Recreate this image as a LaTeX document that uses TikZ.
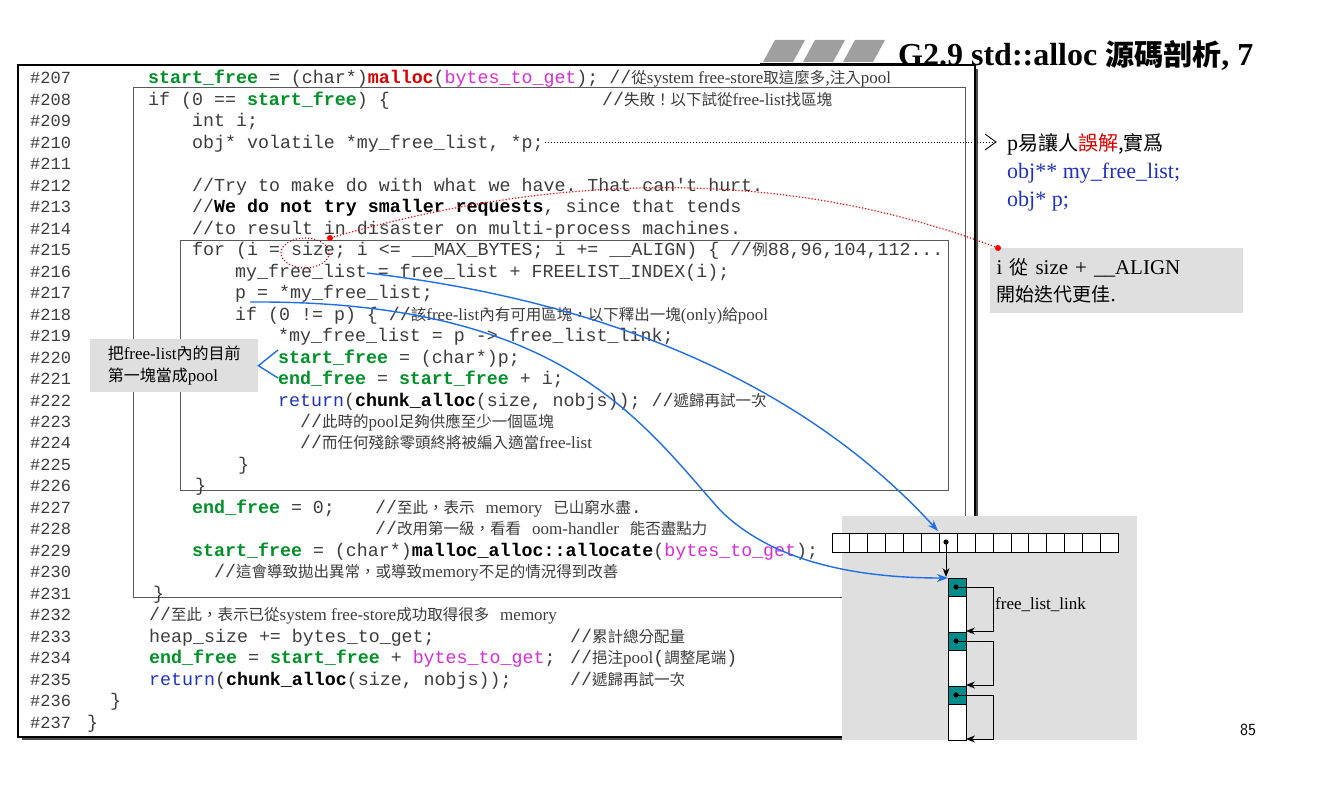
\documentclass[tikz,border=0pt]{standalone}
\usepackage{fontspec}
\setmainfont{Liberation Serif}
\setmonofont{Liberation Mono}
\newfontfamily\cjk{Noto Sans CJK TC}
\usetikzlibrary{arrows.meta,decorations.pathreplacing}
\definecolor{cgreen}{RGB}{0,145,40}
\definecolor{cmag}{RGB}{215,45,215}
\definecolor{cblue}{RGB}{30,50,190}
\definecolor{cgray}{RGB}{60,60,60}
\definecolor{teal2}{RGB}{0,140,140}
\definecolor{lnk}{RGB}{30,110,230}
\newcommand\zh[1]{{\cjk\fontsize{15.5}{16}\selectfont #1}}
\newcommand\sr[1]{{\rmfamily\fontsize{17}{17}\selectfont #1}}
\newcommand\G[1]{\textcolor{cgreen}{\bfseries #1}}
\newcommand\R[1]{\textcolor{red!85!black}{\bfseries #1}}
\newcommand\M[1]{\textcolor{cmag}{#1}}
\newcommand\Bl[1]{\textcolor{cblue}{#1}}
\newcommand\K[1]{\textcolor{black}{\bfseries #1}}
\begin{document}
\begin{tikzpicture}[x=1pt,y=-1pt,
  code/.style={anchor=base west,inner sep=0,font=\ttfamily\fontsize{18.3}{18.3}\selectfont,text=cgray},
  num/.style={anchor=base west,inner sep=0,font=\ttfamily\fontsize{17}{17}\selectfont,text=cgray},
  frame/.style={draw=gray!70!black,line width=1.2pt},
  link/.style={draw=lnk,line width=1.4pt,-{Stealth[length=11pt,width=8pt]}},
  blk/.style={line width=1pt,-{Stealth[length=9pt,width=7pt]}},
  cell/.style={draw=black,fill=white,line width=0.9pt}]
\useasboundingbox (0,0) rectangle (1340,789);
% title
\foreach \i in {0,1,2}{\fill[gray!75] (775+\i*40,40) -- (805+\i*40,40) -- (793+\i*40,62) -- (763+\i*40,62) -- cycle;}
\draw[line width=0.8pt] (760,63) -- (935,63);
\node[anchor=base west,inner sep=0,font=\bfseries\fontsize{32}{32}\selectfont] (title) at (898,66) {G2.9 std::alloc {\cjk\bfseries\fontsize{29}{29}\selectfont 源碼剖析}, 7};
% frames
\draw[line width=1.3pt] (18,65) rectangle (975,737);
\draw[line width=2.5pt,gray!60!black] (22,739) -- (977,739) -- (977,69);
\draw[frame,line width=1pt] (133,88) rectangle (965,597);
\draw[frame,line width=1pt] (180,240) rectangle (948,490);
% line numbers
\foreach \n [count=\k from 0] in {207,...,237}{\node[num] (l\n) at (30,{84+\k*21.47}) {\#\n};}
\newcommand\Y[1]{{84+(#1-207)*21.47}}
\node[code] (c207) at (148,\Y{207}) {\G{start\_free} = (char*)\R{malloc}(\M{bytes\_to\_get}); //\zh{從}\sr{system free-store}\zh{取這麼多,注入}\sr{pool}};
\node[code] (c208) at (148,\Y{208}) {if (0 == \G{start\_free}) \{};
\node[code] (c208b) at (602,\Y{208}) {//\zh{失敗！以下試從}\sr{free-list}\zh{找區塊}};
\node[code] (c209) at (192,\Y{209}) {int i;};
\node[code] (c210) at (192,\Y{210}) {obj* volatile *my\_free\_list, *p;};
\node[code] (c212) at (192,\Y{212}) {//Try to make do with what we have. That can't hurt.};
\node[code] (c213) at (192,\Y{213}) {//\textcolor{black}{\bfseries We do not try smaller requests}, since that tends};
\node[code] (c214) at (192,\Y{214}) {//to result in disaster on multi-process machines.};
\node[code] (c215) at (192,\Y{215}) {for (i = size; i <= \_\_MAX\_BYTES; i += \_\_ALIGN) \{ //\zh{例}88,96,104,112...};
\node[code] (c216) at (235,\Y{216}) {my\_free\_list = free\_list + FREELIST\_INDEX(i);};
\node[code] (c217) at (235,\Y{217}) {p = *my\_free\_list;};
\node[code] (c218) at (235,\Y{218}) {if (0 != p) \{ //\zh{該}\sr{free-list}\zh{內有可用區塊，以下釋出一塊}\sr{(only)}\zh{給}\sr{pool}};
\node[code] (c219) at (278,\Y{219}) {*my\_free\_list = p -> free\_list\_link;};
\node[code] (c220) at (278,\Y{220}) {\G{start\_free} = (char*)p;};
\node[code] (c221) at (278,\Y{221}) {\G{end\_free} = \G{start\_free} + i;};
\node[code] (c222) at (278,\Y{222}) {\Bl{return}(\K{chunk\_alloc}(size, nobjs)); //\zh{遞歸再試一次}};
\node[code] (c223) at (300,\Y{223}) {//\zh{此時的}\sr{pool}\zh{足夠供應至少一個區塊}};
\node[code] (c224) at (300,\Y{224}) {//\zh{而任何殘餘零頭終將被編入適當}\sr{free-list}};
\node[code] (c225) at (238,\Y{225}) {\}};
\node[code] (c226) at (195,\Y{226}) {\}};
\node[code] (c227) at (192,\Y{227}) {\G{end\_free} = 0;};
\node[code] (c227b) at (375,\Y{227}) {//\zh{至此，表示} \sr{memory} \zh{已山窮水盡}.};
\node[code] (c228) at (375,\Y{228}) {//\zh{改用第一級，看看} \sr{oom-handler} \zh{能否盡點力}};
\node[code] (c229) at (192,\Y{229}) {\G{start\_free} = (char*)\K{malloc\_alloc::allocate}(\M{bytes\_to\_get});};
\node[code] (c230) at (214,\Y{230}) {//\zh{這會導致拋出異常，或導致}\sr{memory}\zh{不足的情況得到改善}};
\node[code] (c231) at (153,\Y{231}) {\}};
\node[code] (c232) at (149,\Y{232}) {//\zh{至此，表示已從}\sr{system free-store}\zh{成功取得很多} \sr{memory}};
\node[code] (c233) at (149,\Y{233}) {heap\_size += bytes\_to\_get;};
\node[code] (c233b) at (570,\Y{233}) {//\zh{累計總分配量}};
\node[code] (c234) at (149,\Y{234}) {\G{end\_free} = \G{start\_free} + \M{bytes\_to\_get};};
\node[code] (c234b) at (570,\Y{234}) {//\zh{挹注}\sr{pool}(\zh{調整尾端})};
\node[code] (c235) at (149,\Y{235}) {\Bl{return}(\K{chunk\_alloc}(size, nobjs));};
\node[code] (c235b) at (570,\Y{235}) {//\zh{遞歸再試一次}};
\node[code] (c236) at (110,\Y{236}) {\}};
\node[code] (c237) at (87,\Y{237}) {\}};
% right note
\coordinate (dotA) at (545,142);
\node[anchor=west,inner sep=0,font=\fontsize{22}{28}\selectfont,align=left] (note) at (1007,172)
 {p{\cjk\fontsize{20}{22}\selectfont 易讓人\textcolor{red!85!black}{誤解},實爲}\\\textcolor{cblue}{obj** my\_free\_list;}\\\textcolor{cblue}{obj* p;}};
\coordinate (noteA) at (995,142);
\draw[dotted,line width=0.9pt] (dotA) -- (noteA);
\draw[line width=0.9pt] (985,134) -- (996,142) -- (985,150);
% gray notes
\node[fill=gray!25,anchor=north west,minimum width=253,minimum height=65,inner xsep=4,align=left,font=\fontsize{21}{27}\selectfont,text width=240] (gnote) at (990,248)
 {i {\cjk\fontsize{19}{22}\selectfont 從} size + \_\_ALIGN\\{\cjk\fontsize{19}{22}\selectfont 開始迭代更佳}.};
\node[fill=gray!25,anchor=north west,minimum width=168,minimum height=53,align=left,font=\cjk\fontsize{16}{22}\selectfont,inner xsep=5] (lnote) at (90,339)
 {把{\rmfamily\fontsize{17}{17}\selectfont free-list}內的目前\\第一塊當成{\rmfamily\fontsize{17}{17}\selectfont pool}};
\draw[lnk,line width=1.4pt] (278,350) -- (lnote.east) -- (278,378);
% red dotted
\draw[red!80!black,dotted,line width=1.1pt] (305,253) ellipse (24 and 15);
\coordinate (sz) at (330,238);
\fill[red] (gnote.north west) ++(8,0) circle (3);
\fill[red] (sz) circle (3);
\draw[red,dotted,line width=1.2pt] ([xshift=8]gnote.north west) .. controls (820,180) and (600,160) .. (sz);
% memory diagram
\fill[gray!25] (842,516) rectangle (1137,740);
\foreach \i in {0,...,15}{\draw[cell] ({832+\i*17.9},533) rectangle ({832+(\i+1)*17.9},552);}
\coordinate (arr) at (946,542);
\fill (arr) circle (2.6);
\foreach \j/\y in {1/578,2/632,3/686}{
  \draw[cell] (948,\y) rectangle (966,\y+54);
  \fill[teal2,draw=black,line width=0.9pt] (948,\y) rectangle (966,\y+18);
  \coordinate (b\j) at (956,\y+9);
  \fill (b\j) circle (2.6);
}
\coordinate (blk) at (948,578);
\draw[blk] (arr) -- (946,577);
\foreach \j/\y in {1/632,2/686,3/740}{\draw[blk] (b\j) -- (993,{\y-45}) -- (993,\y-1) -- (966,\y-1);}
\node[anchor=west,inner sep=0,font=\fontsize{17}{17}\selectfont] (fll) at (995,605) {free\_list\_link};
% blue curves
\coordinate (mfl) at (367,273);
\coordinate (pp) at (250,302);
\coordinate (cellT) at (938,531);
\draw[link] (mfl) .. controls (600,300) and (800,380) .. (cellT);
\draw[link] (pp) .. controls (560,300) and (640,420) .. (720,510) .. controls (780,570) and (880,578) .. (blk);
\node[anchor=base,inner sep=0,font=\sffamily\fontsize{17}{17}\selectfont] (pg) at (1248,735) {85};
\end{tikzpicture}
\end{document}
